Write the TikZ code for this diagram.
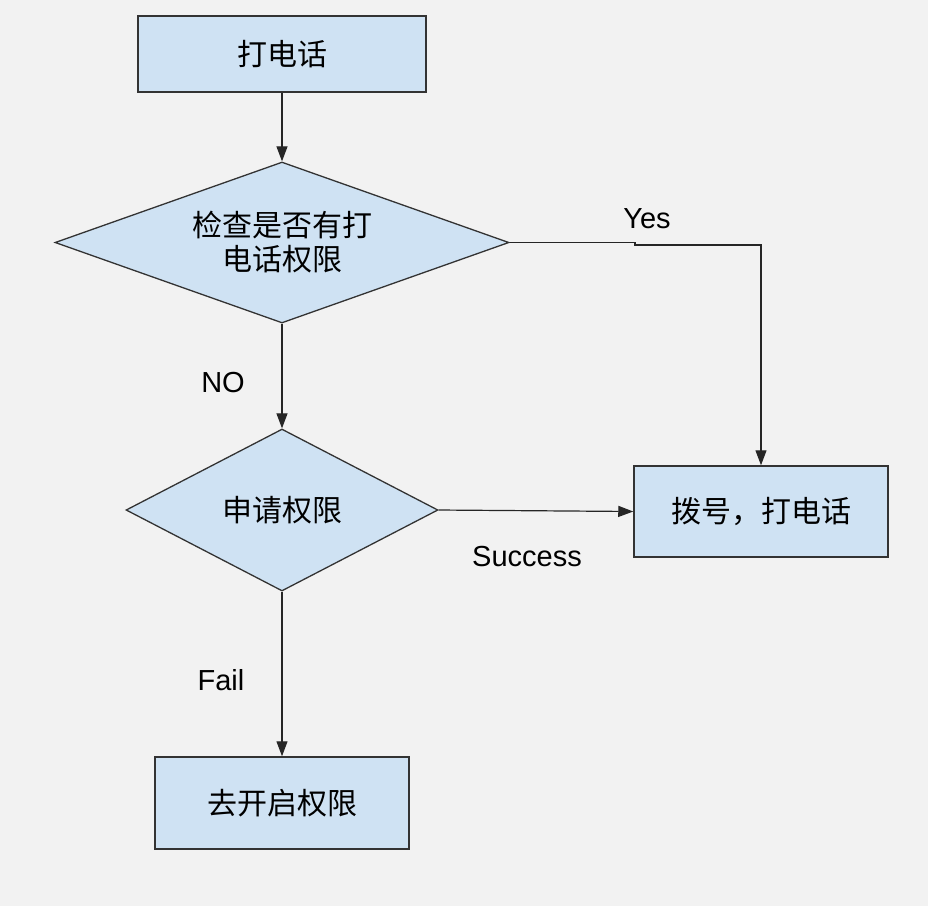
\documentclass[tikz,border=0pt]{standalone}
\usepackage{fontspec}
\setmainfont{Liberation Sans}
\newfontfamily\cjk{Noto Sans CJK SC}
\usetikzlibrary{shapes.geometric,arrows.meta}
\definecolor{pagebg}{HTML}{F2F2F2}
\definecolor{boxfill}{HTML}{CFE2F3}
\definecolor{edge}{HTML}{333333}
\tikzset{
  stepbox/.style={draw=edge, line width=1.5pt, fill=boxfill, inner sep=0pt,
    font=\cjk\fontsize{30}{34}\selectfont},
  decision/.style={diamond, draw=edge, line width=1.3pt, fill=boxfill, inner sep=0pt,
    aspect=2.82, align=center, font=\cjk\fontsize{30}{34}\selectfont},
  conn/.style={draw=black!85, line width=1.2pt,
    -{Triangle[length=15pt,width=11pt]}},
  lbl/.style={font=\fontsize{29}{32}\selectfont, inner sep=0pt}
}
\begin{document}
\begin{tikzpicture}[x=1pt,y=-1pt]
  \fill[pagebg] (0,0) rectangle (928,906);
  \useasboundingbox (0,0) rectangle (928,906);

  \node[stepbox, minimum width=288pt, minimum height=76pt] (start) at (282,54) {打电话};
  \node[decision, minimum width=454pt, minimum height=161pt] (check) at (282,242.5) {检查是否有打\\电话权限};
  \node[decision, minimum width=312pt, minimum height=162pt] (ask) at (282,510) {申请权限};
  \node[stepbox, minimum width=254pt, minimum height=91pt] (dial) at (761,511.5) {拨号，打电话};
  \node[stepbox, minimum width=254pt, minimum height=92pt] (open) at (282,803) {去开启权限};

  \coordinate (ystep) at (635,245);

  \draw[conn] (start.south) -- (check.north);
  \draw[conn] (check.south) -- (ask.north);
  \draw[conn] (check.east) -- (ystep |- check.east) -- (ystep) -- (ystep -| dial.north) -- (dial.north);
  \draw[conn] (ask.east) -- (dial.west);
  \draw[conn] (ask.south) -- (open.north);

  \node[lbl] (yes) at (647,219) {Yes};
  \node[lbl] (no) at (223,383) {NO};
  \node[lbl] (succ) at (527,557) {Success};
  \node[lbl] (fail) at (221,680) {Fail};
\end{tikzpicture}
\end{document}
